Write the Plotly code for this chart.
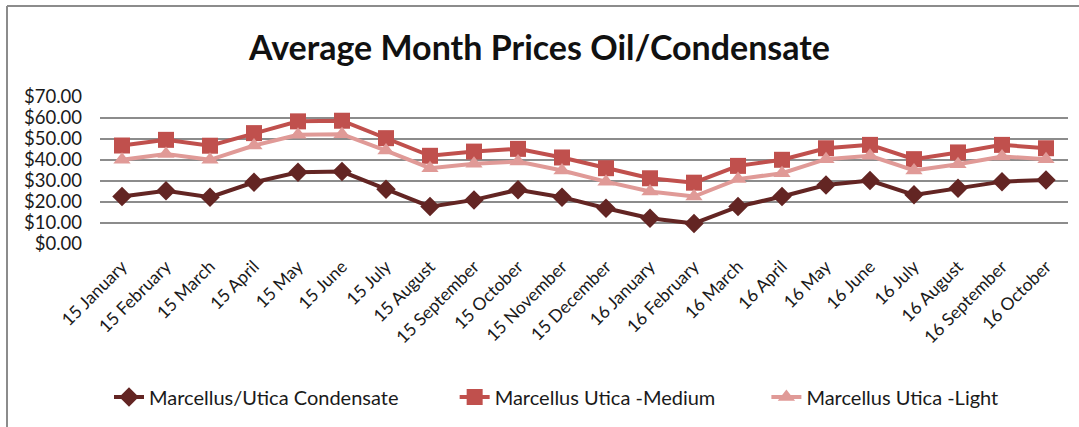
import plotly.graph_objects as go

months = ["15 January", "15 February", "15 March", "15 April", "15 May", "15 June",
          "15 July", "15 August", "15 September", "15 October", "15 November",
          "15 December", "16 January", "16 February", "16 March", "16 April",
          "16 May", "16 June", "16 July", "16 August", "16 September", "16 October"]

condensate = [22.6, 25.3, 22.3, 29.4, 34.2, 34.5, 26.1, 17.8, 21.0, 25.8, 22.3,
              17.0, 12.3, 9.8, 17.8, 22.6, 28.1, 30.2, 23.4, 26.6, 29.7, 30.5]
medium = [46.9, 49.6, 46.8, 52.8, 58.4, 58.7, 50.4, 42.0, 44.0, 45.3, 41.2,
          36.1, 31.3, 29.2, 37.2, 40.1, 45.6, 47.2, 40.4, 43.6, 47.2, 45.6]
light = [40.1, 42.9, 40.1, 46.9, 52.0, 52.3, 44.5, 36.1, 38.2, 39.3, 35.0,
         29.7, 25.0, 22.6, 30.9, 33.7, 40.4, 42.0, 35.0, 38.0, 41.7, 40.4]

y_ticks = [0, 10, 20, 30, 40, 50, 60, 70]
y_tick_labels = ["$%.2f" % v for v in y_ticks]

font_family = "Lato, 'Open Sans', sans-serif"
NB = "\u00a0"

fig = go.Figure()
fig.add_trace(go.Scatter(
    x=months, y=condensate, name="Marcellus/Utica Condensate" + NB * 10, mode="lines+markers",
    line=dict(color="#632523", width=4),
    marker=dict(symbol="diamond", size=15, color="#632523")))
fig.add_trace(go.Scatter(
    x=months, y=medium, name="Marcellus Utica -Medium" + NB * 9, mode="lines+markers",
    line=dict(color="#c0504d", width=4),
    marker=dict(symbol="square", size=16, color="#c0504d")))
fig.add_trace(go.Scatter(
    x=months, y=light, name="Marcellus Utica -Light", mode="lines+markers",
    line=dict(color="#e09a97", width=4),
    marker=dict(symbol="triangle-up", size=15, color="#e09a97")))

L, R, T, B = 100, 11, 97, 183
W, H = 1079, 427
pw, ph = W - L - R, H - T - B

def px_to_paper_x(px):
    return (px - L) / pw

def px_to_paper_y(py):
    return (H - B - py) / ph

border = dict(color="#8c8c8c", width=2)
shapes = [
    dict(type="line", xref="paper", yref="paper",
         x0=px_to_paper_x(7), x1=px_to_paper_x(1079),
         y0=px_to_paper_y(6), y1=px_to_paper_y(6), line=border),
    dict(type="line", xref="paper", yref="paper",
         x0=px_to_paper_x(7), x1=px_to_paper_x(7),
         y0=px_to_paper_y(6), y1=px_to_paper_y(427), line=border),
]

fig.update_layout(
    width=W, height=H,
    margin=dict(l=L, r=R, t=T, b=B, autoexpand=False),
    paper_bgcolor="white", plot_bgcolor="white",
    font=dict(family=font_family, color="#1a1a1a", size=15),
    title=dict(text="<b>Average Month Prices Oil/Condensate</b>",
               font=dict(family=font_family, size=34, color="#111111"),
               x=0.5, xanchor="center", xref="container",
               y=1 - 48 / H, yanchor="middle", yref="container"),
    xaxis=dict(type="category", range=[-0.5, len(months) - 0.5], tickangle=-45,
               showgrid=False, showline=False, ticks="", tickfont=dict(size=17.5),
               ticklabelstandoff=8, zeroline=False, automargin=False),
    yaxis=dict(range=[0, 70], tickvals=y_ticks, ticktext=y_tick_labels,
               showgrid=True, gridcolor="#8c8c8c", gridwidth=2, zeroline=False,
               showline=False, ticks="", tickfont=dict(size=18.5),
               ticklabelstandoff=17, automargin=False),
    legend=dict(orientation="h", xref="container", x=109 / W, xanchor="left",
                yref="container", y=1 - 397 / H, yanchor="middle",
                font=dict(size=20), bgcolor="rgba(0,0,0,0)"),
    shapes=shapes,
    showlegend=True,
)

fig.write_html("out.html", config={"displayModeBar": False},
               post_script="document.body.style.margin='0';")
